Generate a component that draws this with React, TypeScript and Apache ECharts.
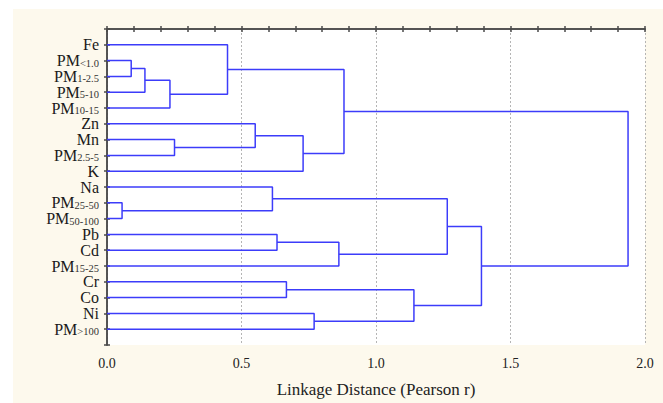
import React, { useEffect, useRef } from "react";
import * as echarts from "echarts";

// Leaf labels in display order (top to bottom): base name + subscript
const leafNames = ["Fe", "PM", "PM", "PM", "PM", "Zn", "Mn", "PM", "K", "Na", "PM", "PM", "Pb", "Cd", "PM", "Cr", "Co", "Ni", "PM"];
const leafSubs = ["", "<1.0", "1-2.5", "5-10", "10-15", "", "", "2.5-5", "", "", "25-50", "50-100", "", "", "15-25", "", "", "", ">100"];

// Linkage: [childA, childB, distance]; leaves are 0..18, new nodes 19.. in order
const merges: [number, number, number][] = [
  [1, 2, 0.09],
  [19, 3, 0.141],
  [20, 4, 0.234],
  [0, 21, 0.448],
  [6, 7, 0.251],
  [5, 23, 0.551],
  [24, 8, 0.729],
  [22, 25, 0.881],
  [10, 11, 0.056],
  [9, 27, 0.615],
  [12, 13, 0.632],
  [29, 14, 0.862],
  [28, 30, 1.265],
  [15, 16, 0.667],
  [17, 18, 0.77],
  [32, 33, 1.141],
  [31, 34, 1.392],
  [26, 35, 1.937],
];

const xMin = 0;
const xMax = 2;
const xInterval = 0.5;
const axisTitle = "Linkage Distance (Pearson r)";

const FONT = "Liberation Serif";
const LINE_COLOR = "#3c3cfa";
const FRAME = "#4a4a4a";

export default function App() {
  const ref = useRef<HTMLDivElement>(null);
  useEffect(() => {
    document.body.style.margin = "0";
    if (!ref.current) return;
    const chart = echarts.init(ref.current, undefined, { renderer: "svg" });

    const nodeX: number[] = leafNames.map(() => 0);
    const nodeY: number[] = leafNames.map((_, i) => i + 1);
    merges.forEach(([a, b, h]) => {
      nodeX.push(h);
      nodeY.push((nodeY[a] + nodeY[b]) / 2);
    });

    const series = merges.map(([a, b, h]) => ({
      type: "line" as const,
      xAxisIndex: 0,
      yAxisIndex: 0,
      showSymbol: false,
      symbol: "none",
      silent: true,
      lineStyle: { color: LINE_COLOR, width: 1.5 },
      data: [
        [nodeX[a], nodeY[a]],
        [h, nodeY[a]],
        [h, nodeY[b]],
        [nodeX[b], nodeY[b]],
      ],
    }));

    const tickCommon = {
      axisLine: { show: true, lineStyle: { color: FRAME, width: 1.5 } },
      axisTick: { show: true, inside: true, length: 3, lineStyle: { color: FRAME, width: 1.5 } },
    };

    chart.setOption({
      animation: false,
      backgroundColor: "#ffffff",
      textStyle: { fontFamily: FONT },
      graphic: [
        {
          type: "rect",
          z: -10,
          silent: true,
          shape: { x: 13, y: 9, width: 663, height: 403 },
          style: { fill: "#fdf9ed" },
        },
      ],
      grid: { left: 107, top: 29, right: 18, bottom: 54, show: true, backgroundColor: "#ffffff", borderWidth: 0 },
      xAxis: [
        {
          type: "value",
          position: "bottom",
          min: xMin,
          max: xMax,
          interval: xInterval,
          ...tickCommon,
          minorTick: { show: true, splitNumber: 5, length: 3, lineStyle: { color: FRAME, width: 1.5 } },
          splitLine: { show: true, lineStyle: { color: "#b5b5b5", type: [2, 2], width: 1 } },
          axisLabel: {
            fontFamily: FONT,
            fontSize: 14,
            color: "#222",
            margin: 11,
            formatter: (v: number) => v.toFixed(1),
          },
          name: axisTitle,
          nameLocation: "middle",
          nameGap: 36,
          nameTextStyle: { fontFamily: FONT, fontSize: 17, color: "#222" },
        },
        {
          type: "value",
          position: "top",
          min: xMin,
          max: xMax,
          interval: xInterval,
          ...tickCommon,
          minorTick: { show: true, splitNumber: 5, length: 3, lineStyle: { color: FRAME, width: 1.5 } },
          splitLine: { show: false },
          axisLabel: { show: false },
        },
      ],
      yAxis: [
        {
          type: "value",
          position: "left",
          inverse: true,
          min: 0,
          max: leafNames.length + 1,
          interval: 1,
          ...tickCommon,
          splitLine: { show: false },
          axisLabel: {
            margin: 8,
            fontFamily: FONT,
            formatter: (v: number) => {
              const i = Math.round(v) - 1;
              if (i < 0 || i >= leafNames.length) return "";
              return leafSubs[i] ? `{m|${leafNames[i]}}{s|${leafSubs[i]}}` : `{m|${leafNames[i]}}`;
            },
            rich: {
              m: { fontFamily: FONT, fontSize: 16, lineHeight: 13, color: "#1a1a1a" },
              s: { fontFamily: FONT, fontSize: 10.5, lineHeight: 8, color: "#333", padding: [5, 0, 0, 0] },
            },
          },
        },
        {
          type: "value",
          position: "right",
          inverse: true,
          min: 0,
          max: leafNames.length + 1,
          interval: 1,
          ...tickCommon,
          splitLine: { show: false },
          axisLabel: { show: false },
        },
      ],
      series,
    });
    return () => chart.dispose();
  }, []);
  return <div ref={ref} style={{ position: "absolute", left: 0, top: 0, width: 663, height: 403 }} />;
}
